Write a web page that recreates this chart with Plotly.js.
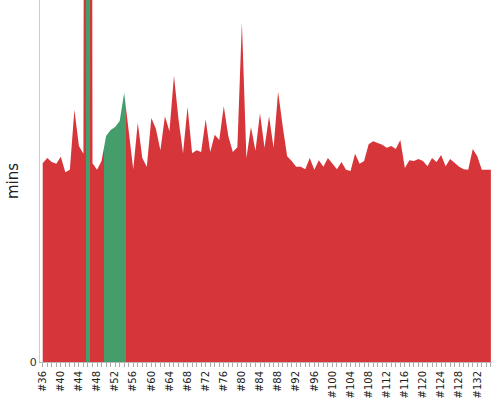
<!DOCTYPE html>
<html>
<head>
<meta charset="utf-8">
<script src="https://cdn.plot.ly/plotly-3.0.1.min.js"></script>
<style>html,body{margin:0;padding:0;background:#fff;}#chart{width:500px;height:400px;}</style>
</head>
<body>
<div id="chart"></div>
<script>
// Build numbers
var builds = [];
for (var b = 36; b <= 135; b++) builds.push(b);

// Build durations (mins); #46 is far off the top of the chart
var durations = [
  33.4, 34.3, 33.6, 33.3, 34.5, 31.9, 32.3, 42.4, 36.3, 35.0,   // #36-#45
  600,  33.4, 32.3, 33.8, 38.0, 39.0, 39.5, 40.5, 45.2, 38.5,   // #46-#55
  32.4, 40.2, 34.3, 32.8, 41.0, 39.2, 35.6, 41.3, 38.8, 48.1,   // #56-#65
  40.8, 35.1, 42.9, 35.1, 35.6, 35.3, 40.8, 35.3, 38.2, 37.3,   // #66-#75
  43.0, 38.0, 35.3, 36.1, 57.1, 34.3, 39.5, 35.5, 41.8, 36.0,   // #76-#85
  41.3, 36.0, 45.4, 39.7, 34.6, 33.8, 32.8, 32.8, 32.4, 34.3,   // #86-#95
  32.3, 33.9, 32.8, 34.3, 33.4, 32.4, 33.6, 32.3, 32.1, 35.0,   // #96-#105
  33.3, 33.8, 36.6, 37.1, 36.8, 36.5, 36.0, 36.3, 35.8, 37.3,   // #106-#115
  32.6, 33.9, 33.8, 34.1, 33.8, 32.9, 34.3, 33.6, 34.8, 32.9,   // #116-#125
  34.1, 33.4, 32.8, 32.4, 32.3, 35.8, 34.6, 32.3, 32.3, 32.3    // #126-#135
];

// Build result: green = success, everything else failed
var successBuilds = [46, 50, 51, 52, 53, 54];

var tickBuilds = [];
var tickLabels = [];
for (var t = 36; t <= 132; t += 4) { tickBuilds.push(t); tickLabels.push('#' + t); }

var RED = '#d63539';
var GREEN = '#449d6b';

// Horizontal colour gradient with hard stops halfway between builds
var x0 = builds[0], x1 = builds[builds.length - 1];
var span = x1 - x0;
var scale = [];
var prev = null;
builds.forEach(function (bn, i) {
  var col = successBuilds.indexOf(bn) >= 0 ? GREEN : RED;
  if (i === 0) { scale.push([0, col]); prev = col; return; }
  if (col !== prev) {
    var p = (bn - 0.5 - x0) / span;
    scale.push([p, prev]);
    scale.push([p, col]);
    prev = col;
  }
});
scale.push([1, prev]);

var trace = {
  x: builds,
  y: durations,
  type: 'scatter',
  mode: 'lines',
  line: {width: 0, color: RED},
  fill: 'tozeroy',
  fillgradient: {type: 'horizontal', colorscale: scale, start: x0, stop: x1},
  hoverinfo: 'skip'
};

var pxPerBuild = 4.527;
var layout = {
  width: 500, height: 400,
  margin: {l: 40, r: 8, t: 0, b: 38},
  paper_bgcolor: '#fff', plot_bgcolor: '#fff',
  showlegend: false,
  font: {family: 'DejaVu Sans, sans-serif', size: 10, color: '#333'},
  xaxis: {
    range: [36 - 2.7 / pxPerBuild, 36 - 2.7 / pxPerBuild + 452 / pxPerBuild],
    tickmode: 'array', tickvals: tickBuilds, ticktext: tickLabels,
    tickangle: -90,
    ticks: 'outside', ticklen: 4, tickcolor: '#aaa', tickwidth: 1,
    minor: {dtick: 1, tick0: 36, ticks: 'outside', ticklen: 4, tickcolor: '#aaa', tickwidth: 1, showgrid: false},
    showline: true, linecolor: '#bbb', linewidth: 1,
    showgrid: false, zeroline: false,
    tickfont: {family: 'DejaVu Sans, sans-serif', size: 10, color: '#222'},
    fixedrange: true
  },
  yaxis: {
    range: [0, 362 / 5.95],
    tickmode: 'array', tickvals: [0], ticktext: ['0'],
    ticks: '', showline: true, linecolor: '#ccc', linewidth: 1,
    showgrid: false, zeroline: false,
    tickfont: {family: 'DejaVu Sans, sans-serif', size: 11, color: '#333'},
    title: {text: 'mins', font: {family: 'DejaVu Sans, sans-serif', size: 15, color: '#222'}, standoff: 7},
    automargin: false,
    fixedrange: true
  }
};

Plotly.newPlot('chart', [trace], layout, {displayModeBar: false, staticPlot: true});
</script>
</body>
</html>
